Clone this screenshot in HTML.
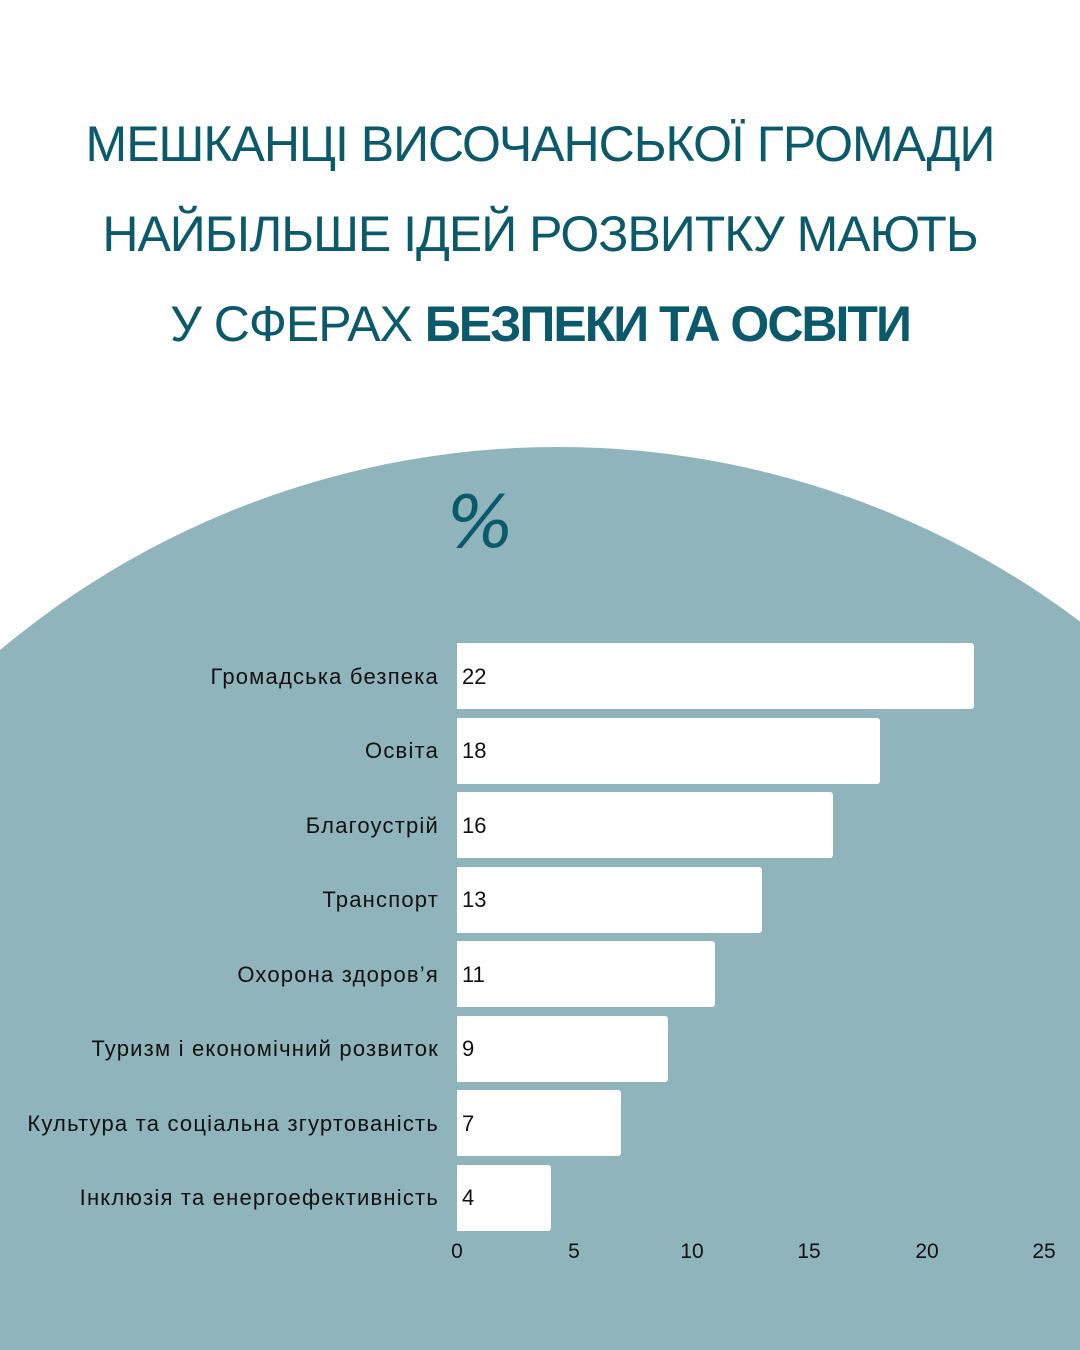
<!DOCTYPE html>
<html><head><meta charset="utf-8"><style>
html,body{margin:0;padding:0;width:1080px;height:1350px;overflow:hidden;background:#fff}
#w{position:relative;width:1080px;height:1350px;overflow:hidden;font-family:"Liberation Sans","DejaVu Sans",sans-serif}
.t{position:absolute;left:0;width:1080px;text-align:center;color:#0b5a6b;font-size:50px;letter-spacing:-1px}
.bar{position:absolute;left:457px;height:66px;background:#fff;border-radius:0 3px 3px 0}
.v{position:absolute;left:462px;font-size:22px;color:#111}
.l{position:absolute;right:641px;font-size:22px;color:#111;white-space:nowrap;letter-spacing:1.2px}
.x{position:absolute;top:1240px;font-size:21px;color:#111;width:40px;margin-left:-20px;text-align:center}
</style></head><body><div id="w">
<svg width="1080" height="1350" style="position:absolute;left:0;top:0"><circle cx="558" cy="1315" r="868" fill="#8fb4bc"/></svg>
<div class="t" style="top:115px">МЕШКАНЦІ ВИСОЧАНСЬКОЇ ГРОМАДИ</div>
<div class="t" style="top:205px">НАЙБІЛЬШЕ ІДЕЙ РОЗВИТКУ МАЮТЬ</div>
<div class="t" style="top:295px">У СФЕРАХ <b style="letter-spacing:-2px">БЕЗПЕКИ ТА ОСВІТИ</b></div>
<div style="position:absolute;left:446px;top:480px;font-size:72px;color:#0b5a6b;font-style:italic;font-family:'DejaVu Sans',sans-serif">%</div>

<div class="bar" style="top:643px;width:517px"></div>
<div class="bar" style="top:718px;width:423px"></div>
<div class="bar" style="top:792px;width:376px"></div>
<div class="bar" style="top:867px;width:305px"></div>
<div class="bar" style="top:941px;width:258px"></div>
<div class="bar" style="top:1016px;width:211px"></div>
<div class="bar" style="top:1090px;width:164px"></div>
<div class="bar" style="top:1165px;width:94px"></div>

<div class="v" style="top:664px">22</div><div class="l" style="top:664px">Громадська безпека</div>
<div class="v" style="top:738px">18</div><div class="l" style="top:738px">Освіта</div>
<div class="v" style="top:813px">16</div><div class="l" style="top:813px">Благоустрій</div>
<div class="v" style="top:887px">13</div><div class="l" style="top:887px">Транспорт</div>
<div class="v" style="top:962px">11</div><div class="l" style="top:962px">Охорона здоров’я</div>
<div class="v" style="top:1036px">9</div><div class="l" style="top:1036px">Туризм і економічний розвиток</div>
<div class="v" style="top:1111px">7</div><div class="l" style="top:1111px">Культура та соціальна згуртованість</div>
<div class="v" style="top:1185px">4</div><div class="l" style="top:1185px">Інклюзія та енергоефективність</div>

<div class="x" style="left:457px">0</div>
<div class="x" style="left:574px">5</div>
<div class="x" style="left:692px">10</div>
<div class="x" style="left:809px">15</div>
<div class="x" style="left:927px">20</div>
<div class="x" style="left:1044px">25</div>
</div></body></html>
